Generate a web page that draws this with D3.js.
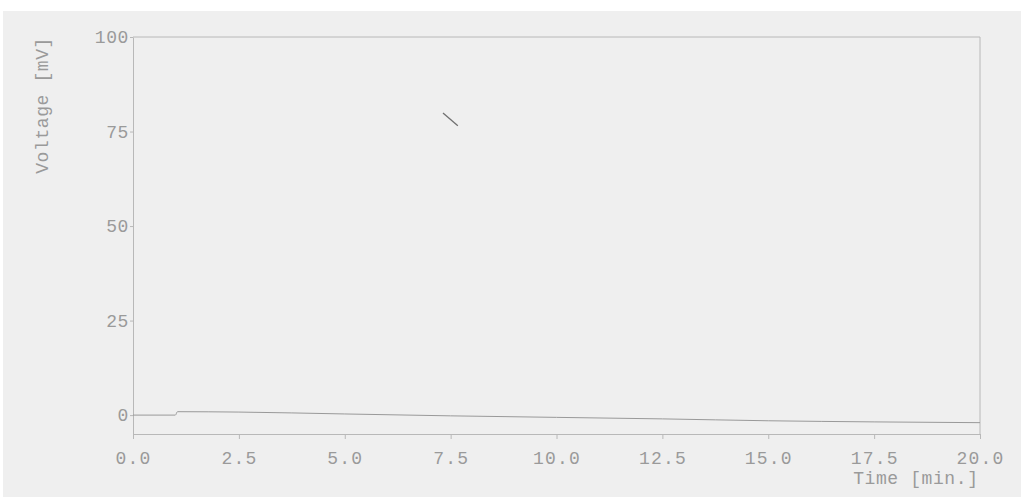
<!DOCTYPE html>
<html>
<head>
<meta charset="utf-8">
<script src="https://cdn.jsdelivr.net/npm/d3@7"></script>
<style>
  html, body { margin: 0; padding: 0; background: #ffffff; }
  svg { display: block; }
  .tick text, .lbl { font-family: "Liberation Mono", "DejaVu Sans Mono", monospace; fill: #9a9a9a; }
</style>
</head>
<body>
<svg id="chart" width="1021" height="497"></svg>
<script>
// Detector trace: time [min] vs voltage [mV]
const timeMin = [0.0, 1.0, 1.05, 2.5, 5.0, 7.5, 10.0, 12.5, 15.0, 17.5, 20.0];
const voltageMv = [0.0, 0.0, 0.9, 0.8, 0.3, -0.2, -0.6, -1.0, -1.5, -1.8, -2.0];

const xTicks = [0, 2.5, 5, 7.5, 10, 12.5, 15, 17.5, 20];
const yTicks = [0, 25, 50, 75, 100];

// short pen stroke inside the plot
const strokeT = [7.32, 7.67];
const strokeV = [79.9, 76.5];

const W = 1021, H = 497;
const margin = { left: 133, top: 37, right: 41, bottom: 63 };

const svg = d3.select("#chart");

svg.append("rect")
  .attr("x", 3).attr("y", 11)
  .attr("width", W - 3).attr("height", H - 11)
  .attr("fill", "#efefef");

const x = d3.scaleLinear().domain([0, 20]).range([margin.left, W - margin.right]);
const y = d3.scaleLinear().domain([-5, 100]).range([H - margin.bottom, margin.top]);

const axisColor = "#b8b8b8";
const textColor = "#9a9a9a";

// frame: top and right edges
svg.append("line")
  .attr("x1", x(0)).attr("x2", x(20))
  .attr("y1", y(100)).attr("y2", y(100))
  .attr("stroke", axisColor).attr("stroke-width", 1);
svg.append("line")
  .attr("x1", x(20)).attr("x2", x(20))
  .attr("y1", y(100)).attr("y2", y(-5))
  .attr("stroke", axisColor).attr("stroke-width", 1);

// x axis
const gx = svg.append("g")
  .attr("transform", `translate(0,${y(-5)})`)
  .call(d3.axisBottom(x).tickValues(xTicks).tickFormat(d3.format(".1f")).tickSize(5).tickSizeOuter(0).tickPadding(12));
gx.select(".domain").attr("stroke", axisColor);
gx.selectAll(".tick line").attr("stroke", axisColor);
gx.selectAll(".tick text")
  .attr("font-size", 18)
  .attr("letter-spacing", "1.2px")
  .attr("fill", textColor);

// y axis
const gy = svg.append("g")
  .attr("transform", `translate(${x(0)},0)`)
  .call(d3.axisLeft(y).tickValues(yTicks).tickFormat(d3.format("d")).tickSize(3).tickSizeOuter(0).tickPadding(1));
gy.select(".domain").attr("stroke", axisColor);
gy.selectAll(".tick line").attr("stroke", axisColor);
gy.selectAll(".tick text")
  .attr("font-size", 18)
  .attr("letter-spacing", "0.6px")
  .attr("fill", textColor);

// axis titles
svg.append("text")
  .attr("class", "lbl")
  .attr("x", x(17.5) - 21)
  .attr("y", 484)
  .attr("font-size", 18)
  .attr("letter-spacing", "0.6px")
  .text("Time [min.]");

svg.append("text")
  .attr("class", "lbl")
  .attr("transform", `translate(48,${y(100)}) rotate(-90)`)
  .attr("text-anchor", "end")
  .attr("font-size", 18)
  .attr("letter-spacing", "0.6px")
  .text("Voltage [mV]");

// trace
const line = d3.line()
  .x((d, i) => x(timeMin[i]))
  .y(d => y(d))
  .curve(d3.curveMonotoneX);

svg.append("path")
  .attr("d", line(voltageMv))
  .attr("fill", "none")
  .attr("stroke", "#999999")
  .attr("stroke-width", 1);

svg.append("line")
  .attr("x1", x(strokeT[0])).attr("y1", y(strokeV[0]))
  .attr("x2", x(strokeT[1])).attr("y2", y(strokeV[1]))
  .attr("stroke", "#707070")
  .attr("stroke-width", 1.3);
</script>
</body>
</html>
